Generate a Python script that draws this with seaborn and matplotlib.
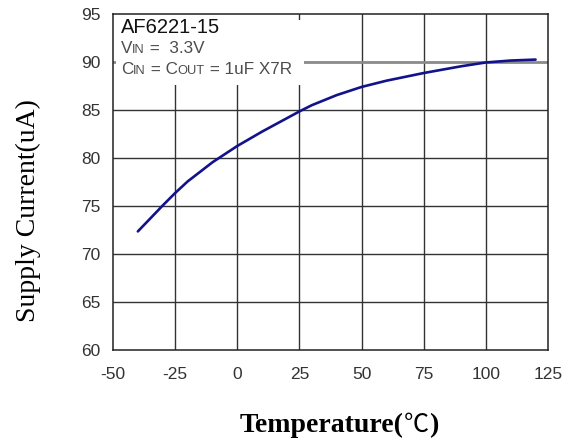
import matplotlib
matplotlib.use("Agg")
import matplotlib.pyplot as plt
import matplotlib.patches as mpatches
import matplotlib.text as mtext
import seaborn as sns
import pandas as pd

# ---- data ----
temperature = [-40, -30, -25, -20, -10, 0, 10, 20, 25, 30, 40, 50, 60, 75, 90, 100, 110, 120]
supply_current = [72.3, 75.0, 76.3, 77.5, 79.5, 81.2, 82.7, 84.1, 84.8, 85.45, 86.5, 87.35,
                  88.0, 88.8, 89.5, 89.9, 90.1, 90.2]
x_ticks = [-50, -25, 0, 25, 50, 75, 100, 125]
y_ticks = [60, 65, 70, 75, 80, 85, 90, 95]
title_text = "AF6221-15"
x_label_parts = ["Temperature(", "\u2103", ")"]
y_label = "Supply Current(uA)"

df = pd.DataFrame({"Temperature": temperature, "Current": supply_current})

sns.set_style("white")
plt.rcParams["font.family"] = ["Liberation Sans", "DejaVu Sans"]

fig = plt.figure(figsize=(5.7, 4.43), dpi=100)
ax = fig.add_axes([113 / 570, 1 - 349.5 / 443, 435 / 570, 336 / 443])

sns.lineplot(data=df, x="Temperature", y="Current", ax=ax, color="#12128a",
             linewidth=1.9, zorder=5)

ax.set_xlim(-50, 125)
ax.set_ylim(60, 95)
ax.set_xticks(x_ticks)
ax.set_yticks(y_ticks)
ax.set_xticklabels([str(v) for v in x_ticks])
ax.set_yticklabels([str(v) for v in y_ticks])
ax.tick_params(axis="both", length=0, labelsize=12.5, labelcolor="#333333")
ax.tick_params(axis="x", pad=12.5)
ax.tick_params(axis="y", pad=9)
ax.set_xlabel("")
ax.set_ylabel("")

# grid
for xv in x_ticks[1:-1]:
    ax.axvline(xv, color="#333333", linewidth=1.0, zorder=1)
for yv in y_ticks[1:-1]:
    if yv == 90:
        ax.axhline(yv, color="#8a8a8a", linewidth=2.0, zorder=1)
    else:
        ax.axhline(yv, color="#333333", linewidth=1.0, zorder=1)

for s in ax.spines.values():
    s.set_visible(True)
    s.set_color("#222222")
    s.set_linewidth(1.1)
    s.set_zorder(6)

# white legend-like boxes covering grid behind the annotation text
ax.add_patch(mpatches.Rectangle((0.007, 0.787), 0.416, 0.213, transform=ax.transAxes,
                                facecolor="white", edgecolor="none", zorder=2))
ax.add_patch(mpatches.Rectangle((0.42, 0.787), 0.019, 0.194, transform=ax.transAxes,
                                facecolor="white", edgecolor="none", zorder=2))

# annotation text
x0 = (120.7 - 113) / 435
def yb(py):
    return 1 - (py - 13.5) / 336

ax.text(x0, yb(33), title_text, transform=ax.transAxes, fontsize=14.5,
        color="#111111", va="baseline", ha="left", zorder=7)

def rich_line(pieces, y):
    prev = None
    for txt, size in pieces:
        if prev is None:
            prev = ax.annotate(txt, xy=(x0, y), xycoords="axes fraction",
                               fontsize=size, color="#4d4d4d", va="baseline",
                               ha="left", zorder=7)
        else:
            prev = ax.annotate(txt, xy=(1, y), xycoords=(prev, ax.transAxes),
                               fontsize=size, color="#4d4d4d", va="baseline",
                               ha="left", zorder=7)

rich_line([("V", 12.3), ("IN", 9.3), (" =  3.3V", 12.3)], yb(53))
rich_line([("C", 12.3), ("IN", 9.3), (" = C", 12.3), ("OUT", 9.3), (" = 1uF X7R", 12.3)], yb(74.5))

# axis titles
xl_y = 1 - 432 / 443
prev = fig.text(240 / 570, xl_y, x_label_parts[0], ha="left", va="baseline",
                fontsize=20, fontweight="bold", family=["Liberation Serif"], color="black")
for txt, kw in [(x_label_parts[1], dict(fontsize=18, fontweight="light",
                                         family=["Noto Sans CJK SC", "DejaVu Sans"])),
                (x_label_parts[2], dict(fontsize=20, fontweight="bold",
                                         family=["Liberation Serif"]))]:
    prev = fig.add_artist(mtext.Annotation(
        txt, xy=(1, xl_y), xycoords=(prev, fig.transFigure), va="baseline", ha="left",
        color="black", **kw))

fig.text(28 / 570, 1 - 211 / 443, y_label, ha="center", va="center", rotation=90,
         fontsize=20, family=["Liberation Serif", "DejaVu Serif"], color="black")

fig.savefig("out.png", dpi=100)
